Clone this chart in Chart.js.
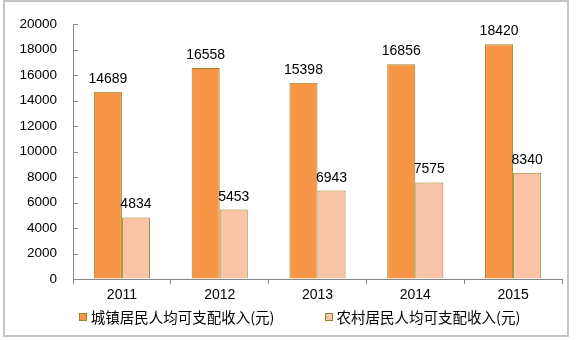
<!DOCTYPE html>
<html>
<head>
<meta charset="utf-8">
<title>居民人均可支配收入</title>
<script src="https://cdn.jsdelivr.net/npm/chart.js@4.4.1/dist/chart.umd.min.js"></script>
<style>
html, body { margin: 0; padding: 0; background: #fff; }
#frame { position: absolute; left: 3px; top: 0; width: 562px; height: 333px; border: 2px solid #c4c4c4; }
#wrap { position: absolute; left: 0; top: 0; width: 578px; height: 340px; }
#legend { position: absolute; left: 0; top: 306px; width: 599px; text-align: center;
  font: 14.5px "Noto Sans CJK SC", sans-serif; color: #000; white-space: nowrap; }
#legend span.item { display: inline-block; margin: 0 25px; }
#legend span.box { display: inline-block; width: 6px; height: 6px; margin-right: 4px; vertical-align: 2px; border: 1px solid #98862a; }
</style>
</head>
<body>
<div id="frame"></div>
<div id="wrap"><canvas id="myChart" width="578" height="340"></canvas></div>
<div id="legend"></div>
<script>
var anos = ['2011', '2012', '2013', '2014', '2015'];
var urbano = [14689, 16558, 15398, 16856, 18420];
var rural = [4834, 5453, 6943, 7575, 8340];
var serieNomes = ['城镇居民人均可支配收入(元)', '农村居民人均可支配收入(元)'];
var yTicks = [0, 2000, 4000, 6000, 8000, 10000, 12000, 14000, 16000, 18000, 20000];

var corEixo = '#868686';
var corBorda = '#98862a';

// valores acima de cada barra + marcas do eixo y para dentro
var rotulos = {
    id: 'rotulos',
    afterDatasetsDraw: function(chart) {
        var ctx = chart.ctx;
        ctx.save();
        ctx.font = '14px "Liberation Sans", Arial, sans-serif';
        ctx.fillStyle = '#000';
        ctx.textAlign = 'center';
        ctx.textBaseline = 'alphabetic';
        chart.data.datasets.forEach(function(ds, i) {
            chart.getDatasetMeta(i).data.forEach(function(bar, j) {
                ctx.fillText(ds.data[j], bar.x, bar.y - 9);
            });
        });
        var y = chart.scales.y;
        ctx.strokeStyle = corEixo;
        ctx.lineWidth = 1;
        yTicks.forEach(function(v) {
            var py = Math.round(y.getPixelForValue(v)) + 0.5;
            ctx.beginPath();
            ctx.moveTo(chart.chartArea.left, py);
            ctx.lineTo(chart.chartArea.left + 5, py);
            ctx.stroke();
        });
        ctx.restore();
    }
};

const ctx = document.getElementById('myChart').getContext('2d');
const myChart = new Chart(ctx, {
    type: 'bar',
    data: {
        labels: anos,
        datasets: [{
            label: serieNomes[0],
            data: urbano,
            backgroundColor: '#f79646',
            borderColor: corBorda,
            borderWidth: 1
        }, {
            label: serieNomes[1],
            data: rural,
            backgroundColor: '#f9c4a8',
            borderColor: corBorda,
            borderWidth: 1
        }]
    },
    options: {
        responsive: false,
        animation: false,
        layout: { padding: { left: 0, right: 16, top: 17, bottom: 35 } },
        categoryPercentage: 0.574,
        barPercentage: 1,
        plugins: {
            legend: { display: false },
            tooltip: { enabled: false }
        },
        scales: {
            x: {
                grid: { drawOnChartArea: false, drawTicks: true, tickLength: 5, color: corEixo },
                border: { color: corEixo },
                ticks: { color: '#000', padding: 3, font: { family: '"Liberation Sans", Arial', size: 14 } },
                afterFit: function(scale) { scale.height = 26; }
            },
            y: {
                min: 0,
                max: 20000,
                grid: { drawOnChartArea: false, drawTicks: false },
                border: { color: corEixo },
                ticks: {
                    stepSize: 2000,
                    color: '#000',
                    padding: 16,
                    font: { family: '"Liberation Sans", Arial', size: 13.5 },
                    callback: function(v) { return String(v); }
                },
                afterFit: function(scale) { scale.width = 73; }
            }
        }
    },
    plugins: [rotulos]
});

// legenda em html a partir dos datasets
var legenda = document.getElementById('legend');
myChart.data.datasets.forEach(function(ds) {
    var item = document.createElement('span');
    item.className = 'item';
    var box = document.createElement('span');
    box.className = 'box';
    box.style.background = ds.backgroundColor;
    item.appendChild(box);
    item.appendChild(document.createTextNode(ds.label));
    legenda.appendChild(item);
});
</script>
</body>
</html>
